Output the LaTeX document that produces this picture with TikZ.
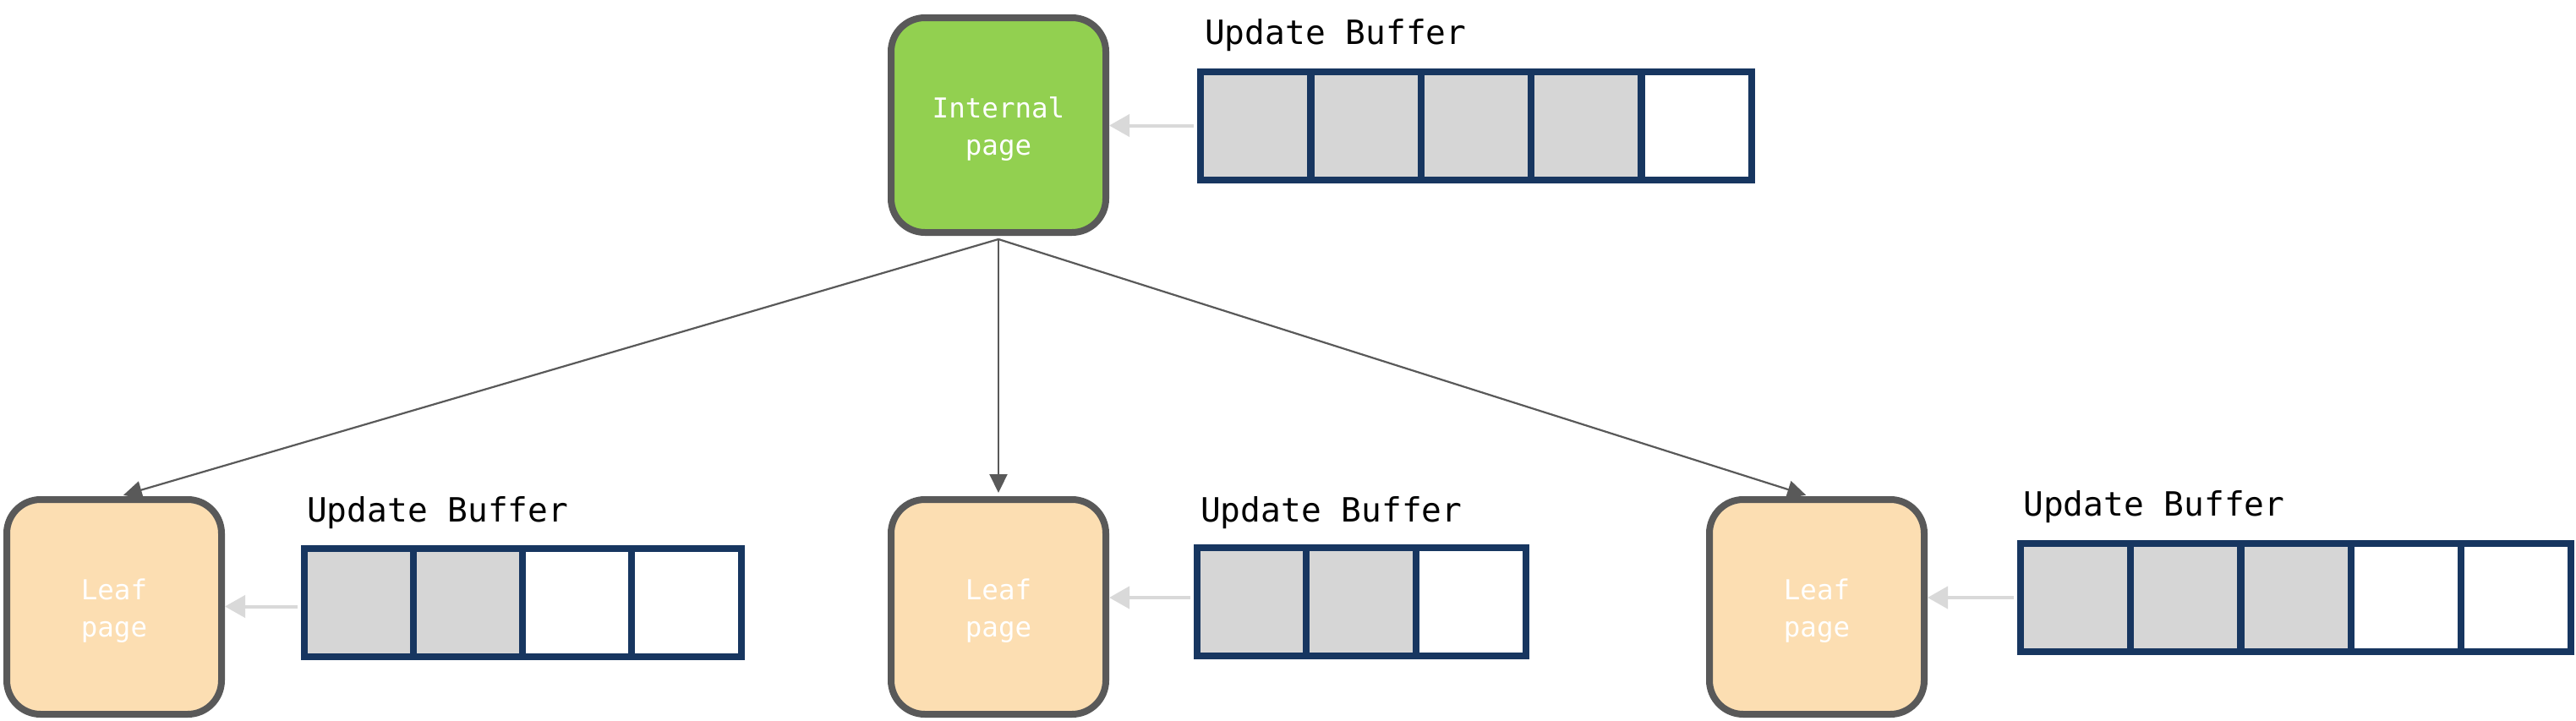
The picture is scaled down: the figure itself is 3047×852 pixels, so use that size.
\documentclass[tikz,border=0pt]{standalone}
\usepackage{fontspec}
\newfontfamily\monof{DejaVu Sans Mono}
\usetikzlibrary{arrows.meta}
\definecolor{navy}{RGB}{23,54,96}
\definecolor{cellgray}{RGB}{214,214,214}
\definecolor{pagegreen}{RGB}{146,208,80}
\definecolor{pagepeach}{RGB}{252,222,178}
\definecolor{edgegray}{RGB}{89,89,89}
\definecolor{arrowgray}{RGB}{217,217,217}
\begin{document}
\begin{tikzpicture}[x=1pt,y=-1pt,
  pagebox/.style={draw=edgegray, line width=8pt, rounded corners=40pt,
    minimum width=254pt, minimum height=254pt, inner sep=0pt},
  pagetext/.style={text=white, font=\monof\fontsize{32.5}{44}\selectfont, align=center, yshift=-5pt},
  cell/.style={draw=navy, line width=8pt, minimum width=130pt, minimum height=128pt, inner sep=0pt},
  fullcell/.style={cell, fill=cellgray},
  emptycell/.style={cell, fill=white},
  buflabel/.style={anchor=base west, inner sep=0pt, font=\monof\fontsize{39.5}{46}\selectfont, text=black},
  feed/.style={draw=arrowgray, line width=4pt, -{Triangle[length=24pt,width=26pt]}, shorten >=4pt},
  edge/.style={draw=edgegray, line width=2.2pt, -{Triangle[length=22pt,width=21pt]}, shorten >=4pt}
]
\fill[white] (0,0) rectangle (3047,852);
\useasboundingbox (0,0) rectangle (3047,852);

% pages
\node[pagebox, fill=pagegreen, label={[pagetext]center:Internal\\page}] (internal) at (1181,148) {};
\node[pagebox, fill=pagepeach, label={[pagetext]center:Leaf\\page}] (leaf1) at (135,718) {};
\node[pagebox, fill=pagepeach, label={[pagetext]center:Leaf\\page}] (leaf2) at (1181,718) {};
\node[pagebox, fill=pagepeach, label={[pagetext]center:Leaf\\page}] (leaf3) at (2149,718) {};

% labels
\node[buflabel] (lbt) at (1425,52) {Update Buffer};
\node[buflabel] (lb1) at (363,617) {Update Buffer};
\node[buflabel] (lb2) at (1420,617) {Update Buffer};
\node[buflabel] (lb3) at (2393,610) {Update Buffer};

% top buffer
\node[fullcell] (t1) at (1485,148.5) {};
\node[fullcell] (t2) at (1616,148.5) {};
\node[fullcell] (t3) at (1746,148.5) {};
\node[fullcell] (t4) at (1876,148.5) {};
\node[emptycell] (t5) at (2007,148.5) {};

% leaf1 buffer
\node[fullcell] (a1) at (425,712.5) {};
\node[fullcell] (a2) at (554,712.5) {};
\node[emptycell] (a3) at (683,712.5) {};
\node[emptycell] (a4) at (812,712.5) {};

% leaf2 buffer
\node[fullcell] (b1) at (1481,712) {};
\node[fullcell] (b2) at (1610,712) {};
\node[emptycell] (b3) at (1740,712) {};

% leaf3 buffer
\node[fullcell] (c1) at (2455,707) {};
\node[fullcell] (c2) at (2585,707) {};
\node[fullcell] (c3) at (2716,707) {};
\node[emptycell] (c4) at (2846,707) {};
\node[emptycell] (c5) at (2976,707) {};

% feed arrows
\draw[feed] ([xshift=-4pt]t1.west) -- ([xshift=-4pt]t1.west -| internal.east);
\draw[feed] ([xshift=-4pt,yshift=-5pt]a1.west) -- ([xshift=-4pt,yshift=-5pt]a1.west -| leaf1.east);
\draw[feed] ([xshift=-4pt,yshift=5pt]b1.west) -- ([xshift=-4pt,yshift=5pt]b1.west -| leaf2.east);
\draw[feed] ([xshift=-4pt]c1.west) -- ([xshift=-4pt]c1.west -| leaf3.east);

% tree edges
\draw[edge] ([yshift=-4pt]internal.south) -- ([xshift=7pt]leaf1.north);
\draw[edge] ([yshift=-4pt]internal.south) -- (leaf2.north);
\draw[edge] ([yshift=-4pt]internal.south) -- ([xshift=-9pt]leaf3.north);
\end{tikzpicture}
\end{document}
